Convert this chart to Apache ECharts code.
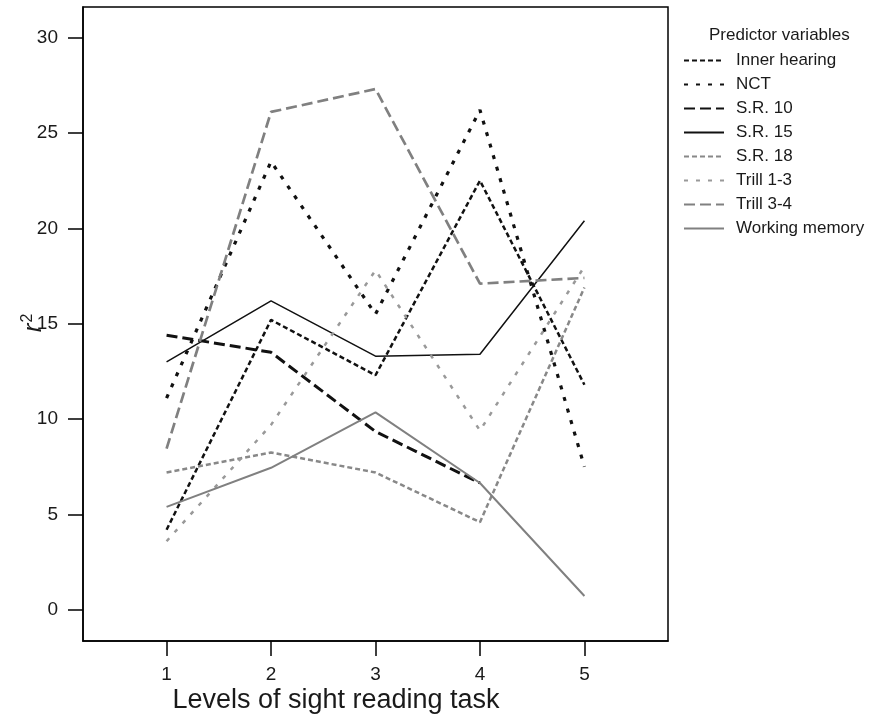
<!DOCTYPE html>
<html>
<head>
<meta charset="utf-8">
<script src="https://cdn.jsdelivr.net/npm/echarts@6/dist/echarts.min.js"></script>
<style>html,body{margin:0;padding:0;background:#fff}#c{width:870px;height:724px}</style>
</head>
<body>
<div id="c"></div>
<script>
const levels = [1, 2, 3, 4, 5];
const xTicks = [1, 2, 3, 4, 5];
const yTicks = [0, 5, 10, 15, 20, 25, 30];
const innerHearing = [4.2, 15.2, 12.3, 22.5, 11.8];
const nct = [11.1, 23.5, 15.5, 26.2, 7.5];
const sr10 = [14.4, 13.5, 9.35, 6.65, null];
const sr15 = [13.0, 16.2, 13.3, 13.4, 20.4];
const sr18 = [7.2, 8.25, 7.2, 4.6, 16.9];
const trill13 = [3.6, 9.7, 17.8, 9.4, 18.0];
const trill34 = [8.45, 26.1, 27.3, 17.1, 17.4];
const workingMemory = [5.4, 7.45, 10.35, 6.65, 0.73];

const seriesDefs = [
  {name: 'Inner hearing', data: innerHearing, color: '#111', width: 2.5, type: [5, 3]},
  {name: 'NCT', data: nct, color: '#111', width: 3.2, type: [4, 8]},
  {name: 'S.R. 10', data: sr10, color: '#111', width: 3, type: [11, 5]},
  {name: 'S.R. 15', data: sr15, color: '#111', width: 1.5, type: 'solid'},
  {name: 'S.R. 18', data: sr18, color: '#888', width: 2.5, type: [5, 3]},
  {name: 'Trill 1-3', data: trill13, color: '#999', width: 2.5, type: [4, 8]},
  {name: 'Trill 3-4', data: trill34, color: '#808080', width: 2.7, type: [11, 5]},
  {name: 'Working memory', data: workingMemory, color: '#808080', width: 2, type: 'solid'}
];

const chart = echarts.init(document.getElementById('c'), null, {renderer: 'canvas'});
const font = 'Liberation Sans, Arial, sans-serif';
chart.setOption({
  animation: false,
  backgroundColor: '#fff',
  textStyle: {fontFamily: font},
  grid: {left: 83, top: 7, right: 202, bottom: 83, containLabel: false, outerBoundsMode: 'none',
    show: true, borderColor: '#000', borderWidth: 1.5, backgroundColor: 'transparent'},
  xAxis: {
    type: 'value', min: 0.2, max: 5.8,
    axisLine: {show: true, onZero: false, lineStyle: {color: '#000', width: 1.5}},
    axisTick: {show: true, length: 15, customValues: xTicks, lineStyle: {color: '#000', width: 1.5}},
    axisLabel: {customValues: xTicks, fontSize: 19, color: '#1a1a1a', margin: 24, fontFamily: font},
    splitLine: {show: false}
  },
  yAxis: {
    type: 'value', min: -1.63, max: 31.6,
    axisLine: {show: true, onZero: false, lineStyle: {color: '#000', width: 1.5}},
    axisTick: {show: true, length: 15, customValues: yTicks, lineStyle: {color: '#000', width: 1.5}},
    axisLabel: {customValues: yTicks, fontSize: 19, color: '#1a1a1a', margin: 25, fontFamily: font},
    splitLine: {show: false}
  },
  legend: {
    orient: 'vertical', left: 683, top: 52, padding: 0, itemWidth: 40, itemHeight: 16, itemGap: 7,
    itemStyle: {opacity: 0},
    textStyle: {fontSize: 17, color: '#1a1a1a', fontFamily: font, padding: [0, 0, 0, 7]},
    data: seriesDefs.map(s => s.name)
  },
  graphic: [{
    type: 'text', left: 709, top: 27,
    style: {text: 'Predictor variables', font: '17px ' + font, fill: '#1a1a1a'}
  }, {
    type: 'text', x: 336, y: 701,
    style: {text: 'Levels of sight reading task', font: '27px ' + font, fill: '#1a1a1a', align: 'center', verticalAlign: 'middle'}
  }, {
    type: 'text', x: 34, y: 323, rotation: Math.PI / 2,
    style: {
      text: '{r|r}{s|2}', align: 'center', verticalAlign: 'middle',
      rich: {
        r: {fontSize: 26, fontStyle: 'italic', fill: '#1a1a1a', fontFamily: font},
        s: {fontSize: 16, fill: '#1a1a1a', fontFamily: font, verticalAlign: 'top', padding: [0, 0, 12, 1]}
      }
    }
  }],
  series: seriesDefs.map(s => ({
    name: s.name, type: 'line', symbol: 'none', showSymbol: false,
    data: levels.map((x, i) => [x, s.data[i]]),
    connectNulls: false,
    color: s.color,
    lineStyle: {color: s.color, width: s.width, type: s.type, cap: 'butt'},
    itemStyle: {color: s.color}
  }))
});
</script>
</body>
</html>
